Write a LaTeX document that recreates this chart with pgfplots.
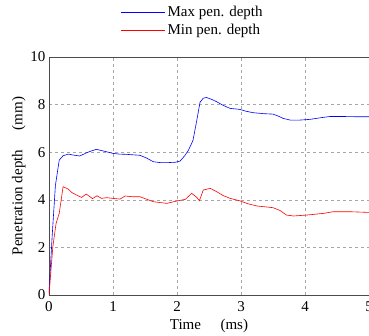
\documentclass[border=0pt]{standalone}
\usepackage{pgfplots}
\pgfplotsset{compat=1.18}
\usepackage{fontspec}
\setmainfont{Liberation Serif}
\pgfplotsset{
  mylegimg/.style={legend image code/.code={\draw[##1] (0pt,0pt) -- (44pt,0pt);}},
}
\pgfplotsset{legend image code/.code={\draw[#1] (0pt,0pt) -- (44pt,0pt);}}
\begin{document}
\begin{tikzpicture}[x=1pt,y=1pt]
\begin{axis}[
  scale only axis, width=320pt, height=238pt,
  xmin=0, xmax=5, ymin=0, ymax=10,
  xtick={0,1,2,3,4,5}, ytick={0,2,4,6,8,10},
  grid=major,
  grid style={dashed, gray!70, line width=0.5pt},
  major tick length=0pt,
  axis line style={black!70, line width=0.6pt},
  tick label style={font=\fontsize{15}{17}\selectfont},
  label style={font=\fontsize{15}{17}\selectfont},
  xticklabel style={yshift=-3pt},
  /pgf/number format/assume math mode=true,
  xlabel={Time\hspace{1.3em}(ms)},
  ylabel={Penetration depth\hspace{1.3em}(mm)},
  xlabel style={yshift=-1pt},
  ylabel style={yshift=-2pt},
  legend style={at={(0.215,1)}, anchor=south west, yshift=17pt, draw=white, fill=none,
    font=\fontsize{15}{17}\selectfont, row sep=2pt,
    /tikz/every even column/.append style={column sep=16pt}},
  legend cell align=left,
]
\addplot[blue, line width=0.6pt] coordinates {
(0,0.1) (0.05,2.5) (0.1,4.6) (0.16,5.67) (0.22,5.85) (0.30,5.92) (0.38,5.88) (0.48,5.84) (0.59,5.98) (0.66,6.05) (0.74,6.12) (0.85,6.05) (1.0,5.95) (1.1,5.92) (1.21,5.91) (1.42,5.87) (1.52,5.76) (1.63,5.6) (1.75,5.56) (1.84,5.56) (1.98,5.58) (2.05,5.63) (2.12,5.85) (2.18,6.09) (2.25,6.5) (2.31,7.35) (2.36,8.1) (2.41,8.27) (2.46,8.3) (2.54,8.22) (2.62,8.12) (2.72,7.97) (2.83,7.84) (2.98,7.8) (3.08,7.72) (3.19,7.66) (3.35,7.62) (3.5,7.6) (3.58,7.52) (3.66,7.42) (3.77,7.35) (3.92,7.35) (4.08,7.38) (4.25,7.45) (4.39,7.5) (4.6,7.5) (4.8,7.49) (5.0,7.49)
};
\addlegendentry{Max pen. depth}
\addplot[red, line width=0.6pt] coordinates {
(0,0) (0.06,2.03) (0.11,3.0) (0.16,3.43) (0.22,4.55) (0.30,4.45) (0.36,4.3) (0.43,4.2) (0.51,4.1) (0.58,4.24) (0.64,4.13) (0.68,4.05) (0.75,4.17) (0.82,4.06) (0.90,4.09) (1.0,4.06) (1.11,4.03) (1.19,4.16) (1.3,4.13) (1.42,4.13) (1.52,4.03) (1.63,3.92) (1.84,3.85) (2.0,3.95) (2.13,4.02) (2.23,4.27) (2.31,4.1) (2.35,3.96) (2.41,4.41) (2.52,4.48) (2.62,4.34) (2.72,4.18) (2.83,4.06) (2.98,3.96) (3.1,3.84) (3.25,3.74) (3.5,3.67) (3.61,3.55) (3.71,3.36) (3.82,3.32) (4.03,3.36) (4.29,3.43) (4.44,3.5) (4.7,3.5) (5.0,3.47)
};
\addlegendentry{Min pen. depth}
\end{axis}
\pgfresetboundingbox
\path[use as bounding box] (-49pt,-40pt) rectangle (320pt,295pt);
\end{tikzpicture}
\end{document}
